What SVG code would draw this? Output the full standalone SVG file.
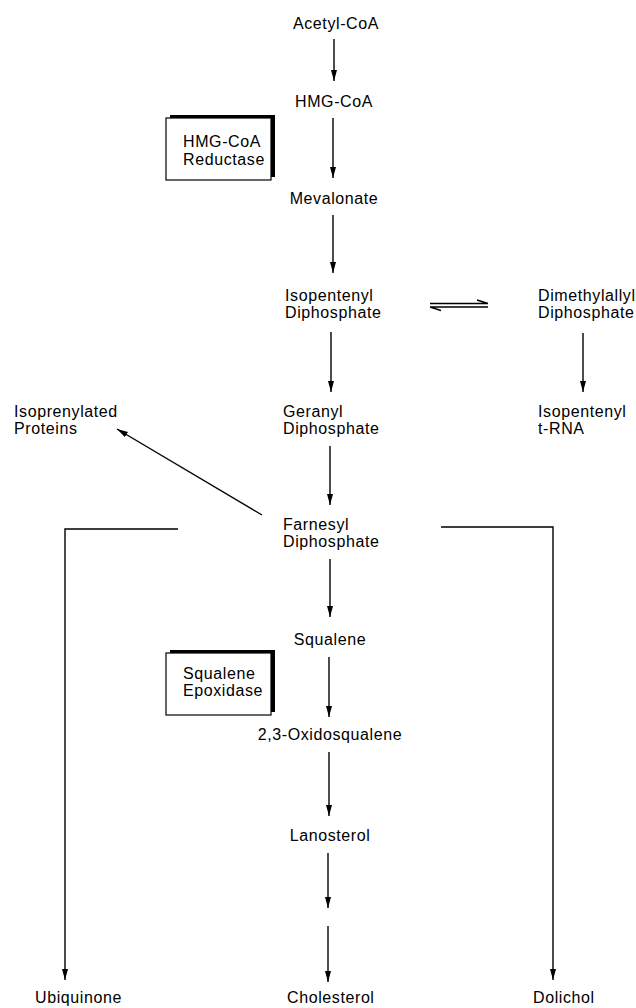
<svg xmlns="http://www.w3.org/2000/svg" width="636" height="1008" viewBox="0 0 636 1008">
<style>
text{font-family:"Liberation Sans",Arial,sans-serif;font-size:16px;letter-spacing:0.6px;fill:#000}
.c{text-anchor:middle}
.ln{stroke:#000;stroke-width:1.4;fill:none}
.bx{stroke:#000;stroke-width:1.2;fill:#fff}
.sh{fill:#000}
</style>
<defs>
<marker id="ah" markerUnits="userSpaceOnUse" markerWidth="12" markerHeight="8" refX="11" refY="3" orient="auto">
<path d="M0,0 L11,3 L0,6 z" fill="#000"/>
</marker>
</defs>
<g id="connectors">
<path class="ln" d="M334,39 V81" marker-end="url(#ah)"/>
<path class="ln" d="M333,118 V178" marker-end="url(#ah)"/>
<path class="ln" d="M333,215 V273" marker-end="url(#ah)"/>
<path class="ln" d="M331,332 V392" marker-end="url(#ah)"/>
<path class="ln" d="M583,333 V392" marker-end="url(#ah)"/>
<path class="ln" d="M330,446 V505" marker-end="url(#ah)"/>
<path class="ln" d="M330,559 V617" marker-end="url(#ah)"/>
<path class="ln" d="M329,657 V717" marker-end="url(#ah)"/>
<path class="ln" d="M329,752 V816" marker-end="url(#ah)"/>
<path class="ln" d="M328,853 V908" marker-end="url(#ah)"/>
<path class="ln" d="M328,926 V982" marker-end="url(#ah)"/>
<path class="ln" d="M262,515 L117,429" marker-end="url(#ah)"/>
<path class="ln" d="M178,529 H65 V980" marker-end="url(#ah)"/>
<path class="ln" d="M441,527 H553 V980" marker-end="url(#ah)"/>
<path class="ln" d="M430,303.5 H488 M477,300 L488,303.5"/>
<path class="ln" d="M430,307 H488 M430,307 L441,310.5"/>
</g>
<g id="acetylcoa"><text class="c" x="336" y="29">Acetyl-CoA</text></g>
<g id="hmgcoa"><text class="c" x="334" y="107">HMG-CoA</text></g>
<g id="hmgcoa-reductase">
<rect class="sh" x="170" y="115" width="105" height="62"/>
<rect class="bx" x="166" y="118" width="105" height="62"/>
<text x="183" y="147">HMG-CoA</text>
<text x="183" y="165">Reductase</text>
</g>
<g id="mevalonate"><text class="c" x="334" y="204">Mevalonate</text></g>
<g id="ipp"><text x="285" y="301">Isopentenyl</text><text x="285" y="318">Diphosphate</text></g>
<g id="dmapp"><text x="538" y="301">Dimethylallyl</text><text x="538" y="318">Diphosphate</text></g>
<g id="gpp"><text x="283" y="417">Geranyl</text><text x="283" y="434">Diphosphate</text></g>
<g id="isoprenylated"><text x="14" y="417">Isoprenylated</text><text x="14" y="434">Proteins</text></g>
<g id="trna"><text x="538" y="417">Isopentenyl</text><text x="538" y="434">t-RNA</text></g>
<g id="fpp"><text x="283" y="530">Farnesyl</text><text x="283" y="547">Diphosphate</text></g>
<g id="squalene"><text class="c" x="330" y="645">Squalene</text></g>
<g id="squalene-epoxidase">
<rect class="sh" x="170" y="650" width="105" height="62"/>
<rect class="bx" x="166" y="653" width="105" height="62"/>
<text x="183" y="679">Squalene</text>
<text x="183" y="696">Epoxidase</text>
</g>
<g id="oxidosqualene"><text class="c" x="330" y="740">2,3-Oxidosqualene</text></g>
<g id="lanosterol"><text class="c" x="330" y="841">Lanosterol</text></g>
<g id="ubiquinone"><text x="35" y="1003">Ubiquinone</text></g>
<g id="cholesterol"><text x="287" y="1003">Cholesterol</text></g>
<g id="dolichol"><text x="533" y="1003">Dolichol</text></g>
</svg>
